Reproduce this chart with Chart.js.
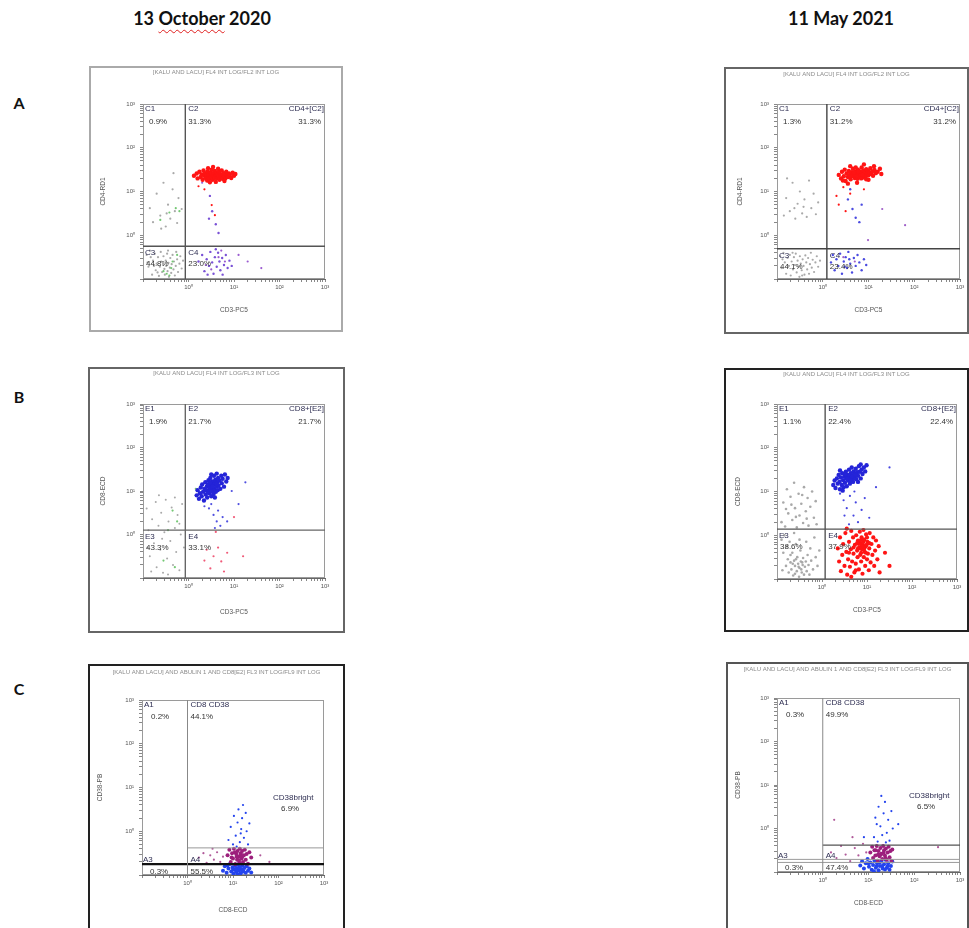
<!DOCTYPE html>
<html>
<head>
<meta charset="utf-8">
<script src="https://cdn.jsdelivr.net/npm/chart.js@4.4.1/dist/chart.umd.min.js"></script>
<style>
  body { margin: 0; width: 969px; height: 928px; overflow: hidden; background: #fff; position: relative; }
  .hd { position: absolute; transform: translate(-50%, -50%); font: bold 18px Lato, "Open Sans", sans-serif; color: #111; white-space: nowrap; }
  .sq { text-decoration: underline wavy #e02020; text-decoration-thickness: 1px; text-underline-offset: 4px; }
  .lt { position: absolute; transform: translate(-50%, -50%); font: bold 16px Lato, "Open Sans", sans-serif; color: #111; }
  .panel { position: absolute; box-sizing: border-box; border: 2px solid #555; }
  .panel canvas { position: absolute; left: 0; top: 0; }
</style>
</head>
<body>
<div class="hd" style="left:202px;top:18px">13 <span class="sq">October</span> 2020</div>
<div class="hd" style="left:841px;top:18px">11 May 2021</div>
<div class="lt" style="left:19px;top:102px">A</div>
<div class="lt" style="left:19px;top:396px">B</div>
<div class="lt" style="left:19px;top:688px">C</div>
<script>
// all values are in decades (log10 of fluorescence), axes run 10^-1 .. 10^3

// ---- A: CD3 / CD4 ----
const aOctText = ['C1', '0.9%', 'C2', '31.3%', 'CD4+[C2]', '31.3%', 'C3', '44.8%', 'C4', '23.0%'];
const aOctGate = [-0.07, -0.25];
const aOctCd4 = [[0.12,1.36],[0.18,1.41],[0.2,1.3],[0.24,1.45],[0.27,1.33],[0.29,1.39],[0.31,1.27],[0.33,1.48],[0.35,1.36],[0.36,1.42],[0.38,1.31],[0.4,1.39],[0.41,1.25],[0.42,1.46],[0.44,1.34],[0.45,1.4],[0.46,1.29],[0.48,1.37],[0.49,1.44],[0.5,1.32],[0.51,1.5],[0.52,1.38],[0.53,1.27],[0.55,1.42],[0.56,1.35],[0.57,1.31],[0.58,1.47],[0.59,1.39],[0.6,1.22],[0.61,1.36],[0.62,1.43],[0.63,1.3],[0.64,1.38],[0.66,1.34],[0.67,1.45],[0.68,1.27],[0.69,1.4],[0.7,1.36],[0.72,1.32],[0.73,1.48],[0.74,1.38],[0.75,1.29],[0.77,1.42],[0.78,1.35],[0.8,1.4],[0.81,1.3],[0.83,1.45],[0.85,1.36],[0.87,1.33],[0.89,1.41],[0.91,1.38],[0.94,1.31],[0.97,1.43],[1.0,1.36],[1.03,1.4],[0.47,1.21],[0.65,1.52],[0.43,1.53],[0.79,1.24],[0.54,1.56]];
const aOctRedStray = [[0.22,1.12],[0.51,0.69],[0.58,0.46],[0.35,1.05]];
const aOctBlue = [[0.22,-0.6],[0.3,-0.45],[0.35,-0.82],[0.4,-0.55],[0.45,-0.7],[0.48,-0.38],[0.52,-0.62],[0.55,-0.88],[0.58,-0.5],[0.62,-0.72],[0.65,-0.4],[0.68,-0.6],[0.7,-0.8],[0.74,-0.52],[0.78,-0.68],[0.82,-0.45],[0.86,-0.75],[0.9,-0.58],[0.95,-0.7],[0.6,-0.32],[0.42,-0.9],[0.75,-0.9],[0.47,0.9],[0.52,0.55],[0.6,0.25],[0.66,0.05],[0.45,0.38]];
const aOctViolet = [[0.5,-0.78],[0.66,-0.5],[0.8,-0.6],[0.38,-0.68],[0.3,1.2],[0.72,-0.35],[1.3,-0.6],[1.6,-0.75],[1.1,-0.45]];
const aOctGray = [[-0.85,0.62],[-0.78,0.3],[-0.7,0.95],[-0.62,0.45],[-0.55,1.2],[-0.5,0.2],[-0.45,0.7],[-0.4,0.38],[-0.35,1.05],[-0.3,0.55],[-0.25,0.28],[-0.22,0.85],[-0.6,0.15],[-0.33,1.42],[-0.15,0.6],[-0.48,0.5],
  [-0.92,-0.45],[-0.88,-0.72],[-0.85,-0.35],[-0.8,-0.9],[-0.78,-0.58],[-0.74,-0.42],[-0.72,-0.8],[-0.7,-0.65],[-0.67,-0.5],[-0.65,-0.93],[-0.63,-0.72],[-0.61,-0.38],[-0.6,-0.6],[-0.58,-0.84],[-0.56,-0.68],[-0.55,-0.48],[-0.53,-0.77],[-0.52,-0.9],[-0.5,-0.58],[-0.49,-0.7],[-0.47,-0.42],[-0.46,-0.82],[-0.44,-0.63],[-0.43,-0.95],[-0.41,-0.74],[-0.4,-0.52],[-0.38,-0.86],[-0.37,-0.66],[-0.35,-0.45],[-0.33,-0.78],[-0.32,-0.6],[-0.3,-0.92],[-0.28,-0.7],[-0.27,-0.38],[-0.25,-0.55],[-0.23,-0.84],[-0.2,-0.65],[-0.18,-0.48],[-0.15,-0.76],[-0.12,-0.58],[-0.9,-0.62],[-0.83,-0.5],[-0.76,-0.7],[-0.68,-0.85],[-0.45,-0.35]];
const aOctGreen = [[-0.42,0.52],[-0.28,0.62],[-0.62,0.35],[-0.2,0.55],[-0.48,-0.88],[-0.42,-0.92],[-0.35,-0.6],[-0.55,-0.82],[-0.38,-0.75],[-0.25,-0.45]];

const aMayText = ['C1', '1.3%', 'C2', '31.2%', 'CD4+[C2]', '31.2%', 'C3', '44.1%', 'C4', '23.4%'];
const aMayGate = [0.09, -0.31];
const aMayCd4 = [[0.35,1.38],[0.4,1.3],[0.42,1.45],[0.46,1.35],[0.48,1.5],[0.5,1.24],[0.52,1.41],[0.55,1.33],[0.57,1.47],[0.59,1.38],[0.61,1.28],[0.63,1.44],[0.65,1.36],[0.66,1.52],[0.68,1.4],[0.7,1.31],[0.71,1.46],[0.73,1.37],[0.74,1.43],[0.76,1.29],[0.77,1.5],[0.79,1.4],[0.8,1.34],[0.82,1.46],[0.83,1.38],[0.85,1.55],[0.86,1.42],[0.88,1.32],[0.89,1.48],[0.91,1.39],[0.92,1.44],[0.94,1.35],[0.95,1.51],[0.97,1.41],[0.99,1.47],[1.0,1.37],[1.02,1.43],[1.04,1.53],[1.06,1.4],[1.08,1.46],[1.1,1.36],[1.13,1.49],[1.16,1.42],[1.2,1.45],[1.25,1.52],[1.28,1.4],[0.6,1.58],[0.9,1.62],[0.75,1.2],[0.55,1.18],[1.0,1.27],[0.84,1.3],[0.72,1.55],[0.95,1.28],[1.12,1.58],[0.44,1.25],[0.62,1.35],[0.78,1.45],[0.87,1.38],[0.68,1.43]];
const aMayRedStray = [[0.45,1.1],[0.3,0.9],[0.6,0.95],[0.35,0.7],[0.9,1.05],[0.5,0.55]];
const aMayBlue = [[0.18,-0.62],[0.22,-0.45],[0.26,-0.8],[0.3,-0.55],[0.34,-0.7],[0.38,-0.42],[0.42,-0.88],[0.46,-0.6],[0.5,-0.5],[0.53,-0.75],[0.56,-0.38],[0.6,-0.65],[0.64,-0.85],[0.68,-0.52],[0.72,-0.7],[0.76,-0.45],[0.8,-0.62],[0.85,-0.8],[0.9,-0.55],[0.95,-0.68],[0.58,-0.55],[0.48,-0.72],[0.55,0.82],[0.65,0.6],[0.72,0.4],[0.85,0.7],[0.6,1.05],[0.8,0.3]];
const aMayViolet = [[1.8,0.23],[0.99,-0.11],[1.3,0.6],[0.7,-0.6],[0.45,-0.5]];
const aMayGray = [[-0.85,0.45],[-0.8,0.85],[-0.72,0.55],[-0.66,1.2],[-0.6,0.38],[-0.55,0.72],[-0.5,1.0],[-0.45,0.5],[-0.4,0.82],[-0.35,0.42],[-0.3,1.25],[-0.25,0.62],[-0.2,0.95],[-0.15,0.48],[-0.1,0.75],[-0.62,0.62],[-0.42,0.65],[-0.78,1.3],
  [-0.93,-0.48],[-0.9,-0.75],[-0.86,-0.4],[-0.83,-0.62],[-0.8,-0.88],[-0.77,-0.52],[-0.74,-0.7],[-0.72,-0.45],[-0.7,-0.92],[-0.68,-0.6],[-0.65,-0.78],[-0.63,-0.5],[-0.61,-0.68],[-0.59,-0.42],[-0.57,-0.85],[-0.55,-0.58],[-0.53,-0.72],[-0.51,-0.95],[-0.5,-0.48],[-0.48,-0.65],[-0.46,-0.8],[-0.44,-0.55],[-0.42,-0.7],[-0.4,-0.9],[-0.38,-0.46],[-0.36,-0.62],[-0.34,-0.78],[-0.32,-0.52],[-0.3,-0.88],[-0.28,-0.66],[-0.26,-0.4],[-0.24,-0.74],[-0.22,-0.56],[-0.19,-0.84],[-0.16,-0.62],[-0.13,-0.48],[-0.1,-0.72],[-0.06,-0.58],[-0.88,-0.55],[-0.66,-0.4],[-0.45,-0.92]];

// ---- B: CD3 / CD8 ----
const bOctText = ['E1', '1.9%', 'E2', '21.7%', 'CD8+[E2]', '21.7%', 'E3', '43.3%', 'E4', '33.1%'];
const bOctGate = [-0.07, 0.1];
const bOctCd8 = [[0.18,0.9],[0.2,1.02],[0.23,0.82],[0.25,0.95],[0.27,1.08],[0.29,0.88],[0.3,1.15],[0.32,0.98],[0.34,0.78],[0.35,1.05],[0.37,1.2],[0.38,0.92],[0.4,1.1],[0.41,0.85],[0.42,1.0],[0.44,1.25],[0.45,1.12],[0.46,0.95],[0.47,1.05],[0.48,1.3],[0.49,1.18],[0.5,0.88],[0.51,1.08],[0.52,1.0],[0.53,1.22],[0.54,1.14],[0.55,0.93],[0.56,1.35],[0.57,1.05],[0.58,1.18],[0.59,1.26],[0.6,0.98],[0.61,1.1],[0.62,1.4],[0.63,1.2],[0.64,1.02],[0.65,1.3],[0.66,1.12],[0.68,1.24],[0.7,1.05],[0.72,1.35],[0.73,1.18],[0.75,1.28],[0.78,1.1],[0.8,1.38],[0.83,1.22],[0.86,1.3],[0.43,1.15],[0.39,1.02],[0.5,1.38],[0.58,0.85],[0.47,1.2],[0.53,1.1],[0.62,1.16],[0.44,0.98]];
const bOctBlueStray = [[0.45,0.6],[0.55,0.45],[0.62,0.3],[0.7,0.2],[0.5,0.7],[0.75,0.4],[0.65,0.55],[0.58,0.15],[0.85,0.3],[1.1,0.7],[0.35,0.65],[0.95,1.0],[1.25,1.2]];
const bOctRed = [[0.6,0.06],[0.4,-0.35],[0.55,-0.5],[0.72,-0.62],[0.85,-0.42],[0.48,-0.78],[0.65,-0.3],[0.35,-0.6],[1.2,-0.5],[0.78,-0.85],[1.0,0.4]];
const bOctGray = [[-0.92,0.6],[-0.88,0.1],[-0.85,-0.5],[-0.8,0.35],[-0.76,-0.2],[-0.72,0.75],[-0.7,-0.75],[-0.66,0.2],[-0.62,-0.35],[-0.6,0.5],[-0.56,-0.88],[-0.53,0.05],[-0.5,0.8],[-0.47,-0.55],[-0.44,0.3],[-0.4,-0.15],[-0.37,0.62],[-0.34,-0.7],[-0.3,0.15],[-0.27,-0.4],[-0.24,0.45],[-0.2,-0.82],[-0.17,0.0],[-0.14,0.7],[-0.1,-0.3],[-0.82,-0.85],[-0.65,0.9],[-0.45,-0.92],[-0.3,0.85],[-0.58,-0.1],[-0.9,-0.3],[-0.2,0.25]];
const bOctGreen = [[-0.35,0.55],[-0.55,-0.6],[-0.25,0.3],[0.16,1.05],[-0.45,0.1],[-0.3,-0.75]];

const bMayText = ['E1', '1.1%', 'E2', '22.4%', 'CD8+[E2]', '22.4%', 'E3', '38.6%', 'E4', '37.9%'];
const bMayGate = [0.07, 0.14];
const bMayCd8 = [[0.25,1.15],[0.28,1.25],[0.3,1.08],[0.33,1.3],[0.35,1.18],[0.37,1.38],[0.39,1.22],[0.4,1.05],[0.42,1.32],[0.44,1.15],[0.45,1.42],[0.47,1.26],[0.48,1.1],[0.5,1.35],[0.51,1.2],[0.53,1.45],[0.54,1.3],[0.55,1.12],[0.57,1.38],[0.58,1.25],[0.6,1.5],[0.61,1.33],[0.62,1.18],[0.64,1.42],[0.65,1.28],[0.66,1.55],[0.68,1.36],[0.69,1.22],[0.7,1.46],[0.72,1.32],[0.73,1.4],[0.75,1.52],[0.76,1.28],[0.78,1.44],[0.8,1.36],[0.82,1.58],[0.84,1.45],[0.86,1.3],[0.88,1.5],[0.9,1.4],[0.93,1.55],[0.96,1.46],[0.99,1.6],[0.6,1.38],[0.7,1.3],[0.56,1.3],[0.67,1.35],[0.74,1.38],[0.63,1.26],[0.52,1.4],[0.46,1.02],[0.8,1.22],[0.4,1.48],[0.86,1.62]];
const bMayBlueStray = [[0.4,0.95],[0.48,0.8],[0.55,0.62],[0.62,0.9],[0.7,0.45],[0.75,0.75],[0.8,0.3],[0.88,0.58],[0.95,0.85],[1.05,0.4],[0.6,0.25],[0.72,1.0],[0.5,0.45],[1.2,1.1],[1.5,1.55]];
const bMayRed = [[0.35,-0.3],[0.38,-0.6],[0.4,-0.05],[0.42,-0.82],[0.45,-0.45],[0.47,-0.2],[0.5,-0.7],[0.52,0.05],[0.54,-0.38],[0.56,-0.9],[0.58,-0.55],[0.6,-0.15],[0.62,-0.72],[0.64,-0.32],[0.65,0.1],[0.67,-0.6],[0.69,-0.05],[0.7,-0.42],[0.72,-0.85],[0.73,-0.22],[0.75,-0.65],[0.76,0.0],[0.78,-0.35],[0.79,-0.5],[0.8,-0.12],[0.82,-0.78],[0.83,-0.28],[0.84,0.08],[0.85,-0.45],[0.86,-0.18],[0.87,-0.6],[0.88,-0.05],[0.89,-0.32],[0.9,-0.88],[0.91,-0.22],[0.92,0.12],[0.93,-0.5],[0.94,-0.1],[0.95,-0.38],[0.96,-0.7],[0.97,-0.25],[0.98,0.02],[1.0,-0.55],[1.01,-0.15],[1.02,-0.42],[1.04,-0.8],[1.05,-0.3],[1.06,0.05],[1.08,-0.62],[1.1,-0.2],[1.12,-0.45],[1.14,-0.05],[1.16,-0.7],[1.18,-0.35],[1.2,-0.12],[1.23,-0.55],[1.26,-0.25],[1.28,-0.85],[0.88,-0.25],[0.92,-0.15],[0.85,-0.3],[0.95,-0.28],[0.9,-0.1],[0.82,-0.2],[0.97,-0.4],[0.87,-0.4],[0.8,-0.3],[1.0,-0.05],[0.93,-0.32],[0.84,-0.12],[0.78,-0.18],[0.99,-0.22],[0.7,-0.28],[1.05,-0.18],[0.6,-0.4],[0.75,-0.8],[0.65,-0.95],[0.55,0.15],[1.4,-0.4],[1.5,-0.7]];
const bMayGray = [[-0.9,0.3],[-0.86,0.75],[-0.82,0.2],[-0.78,1.05],[-0.75,0.5],[-0.7,0.88],[-0.66,0.35],[-0.62,1.2],[-0.6,0.62],[-0.56,0.18],[-0.52,0.95],[-0.5,0.45],[-0.46,0.72],[-0.42,0.28],[-0.4,1.1],[-0.36,0.55],[-0.32,0.85],[-0.3,0.22],[-0.26,0.65],[-0.22,1.0],[-0.18,0.4],[-0.14,0.78],[-0.12,0.25],[-0.68,0.7],[-0.44,0.92],[-0.58,0.42],[-0.34,0.38],[-0.8,0.6],
  [-0.9,-0.1],[-0.86,-0.4],[-0.84,0.0],[-0.8,-0.7],[-0.78,-0.25],[-0.76,-0.55],[-0.74,-0.85],[-0.72,-0.15],[-0.7,-0.62],[-0.68,-0.78],[-0.66,-0.4],[-0.64,-0.92],[-0.62,-0.58],[-0.6,-0.7],[-0.58,-0.2],[-0.56,-0.82],[-0.55,-0.5],[-0.53,-0.65],[-0.51,-0.95],[-0.5,-0.75],[-0.48,-0.35],[-0.47,-0.6],[-0.45,-0.85],[-0.43,-0.68],[-0.42,-0.52],[-0.4,-0.9],[-0.38,-0.72],[-0.36,-0.6],[-0.34,-0.82],[-0.32,-0.45],[-0.3,-0.68],[-0.28,-0.9],[-0.26,-0.3],[-0.24,-0.58],[-0.2,-0.78],[-0.17,-0.05],[-0.14,-0.5],[-0.1,-0.7],[-0.06,-0.35],[-0.88,-0.8],[-0.65,-0.65],[-0.6,-0.88],[-0.52,-0.72],[-0.46,-0.78],[-0.44,-0.62],[-0.58,-0.55],[-0.7,-0.45],[-0.35,-0.15],[-0.62,0.05],[-0.5,-0.1]];

// ---- C: CD8 / CD38 ----
const cOctText = ['A1', '0.2%', 'CD8 CD38', '44.1%', 'CD38bright', '6.9%', 'A3', '0.3%', 'A4', '55.5%'];
const cOctGate = [0.0, -0.38, -0.75];
const cOctBright = [[0.9,-0.2],[0.95,0.1],[1.0,-0.3],[1.02,0.35],[1.06,-0.1],[1.1,0.2],[1.12,0.5],[1.15,-0.25],[1.18,0.05],[1.2,0.3],[1.24,-0.15],[1.28,0.42],[1.3,0.0],[1.33,-0.3],[1.36,0.18],[1.08,-0.35],[1.22,0.6],[1.17,-0.05]];
const cOctMid = [[0.88,-0.55],[0.92,-0.42],[0.95,-0.7],[0.98,-0.5],[1.0,-0.62],[1.02,-0.4],[1.05,-0.75],[1.07,-0.52],[1.09,-0.65],[1.1,-0.45],[1.12,-0.58],[1.14,-0.72],[1.15,-0.4],[1.17,-0.5],[1.19,-0.62],[1.2,-0.45],[1.22,-0.7],[1.24,-0.55],[1.26,-0.42],[1.28,-0.65],[1.3,-0.52],[1.33,-0.74],[1.36,-0.48],[1.4,-0.6],[1.08,-0.58],[1.16,-0.55],[1.13,-0.66],[1.21,-0.57],[1.04,-0.48],[0.97,-0.6]];
const cOctDim = [[0.78,-0.9],[0.82,-0.8],[0.86,-0.95],[0.9,-0.85],[0.93,-0.75],[0.96,-0.92],[0.99,-0.82],[1.01,-0.97],[1.03,-0.88],[1.05,-0.78],[1.07,-0.93],[1.09,-0.85],[1.11,-0.76],[1.13,-0.9],[1.15,-0.82],[1.17,-0.96],[1.19,-0.87],[1.21,-0.78],[1.23,-0.92],[1.25,-0.84],[1.28,-0.95],[1.3,-0.8],[1.33,-0.9],[1.36,-0.85],[1.4,-0.94],[1.1,-0.98],[1.16,-0.74],[1.0,-0.86],[1.12,-0.84],[1.2,-0.9],[0.88,-0.78],[1.06,-0.86]];
const cOctViolet = [[0.25,-0.6],[0.35,-0.5],[0.42,-0.72],[0.5,-0.55],[0.58,-0.65],[0.65,-0.48],[0.72,-0.7],[0.78,-0.58],[0.3,-0.75],[0.55,-0.4],[1.6,-0.55],[1.8,-0.7]];

const cMayText = ['A1', '0.3%', 'CD8 CD38', '49.9%', 'CD38bright', '6.5%', 'A3', '0.3%', 'A4', '47.4%'];
const cMayGate = [0.0, -0.38, -0.71, -0.78];
const cMayBright = [[1.12,-0.2],[1.15,0.25],[1.2,-0.3],[1.22,0.5],[1.26,0.05],[1.3,-0.15],[1.33,0.35],[1.36,0.61],[1.4,-0.1],[1.43,0.2],[1.46,-0.28],[1.5,0.4],[1.53,0.0],[1.28,0.75],[1.38,-0.32],[1.18,0.1],[0.9,-0.2],[1.65,0.1]];
const cMayMid = [[1.04,-0.55],[1.08,-0.42],[1.1,-0.68],[1.13,-0.5],[1.15,-0.62],[1.18,-0.4],[1.2,-0.74],[1.22,-0.52],[1.24,-0.64],[1.26,-0.45],[1.28,-0.58],[1.3,-0.7],[1.32,-0.4],[1.34,-0.5],[1.36,-0.62],[1.38,-0.46],[1.4,-0.72],[1.42,-0.55],[1.44,-0.42],[1.46,-0.66],[1.48,-0.52],[1.5,-0.74],[1.52,-0.48],[1.27,-0.6],[1.33,-0.56],[1.21,-0.6],[1.37,-0.68],[1.16,-0.5]];
const cMayDim = [[0.82,-0.85],[0.86,-0.75],[0.9,-0.92],[0.94,-0.8],[0.98,-0.7],[1.01,-0.88],[1.04,-0.78],[1.07,-0.95],[1.1,-0.84],[1.13,-0.74],[1.16,-0.9],[1.19,-0.8],[1.22,-0.96],[1.25,-0.86],[1.28,-0.76],[1.31,-0.92],[1.34,-0.82],[1.37,-0.72],[1.4,-0.9],[1.43,-0.8],[1.46,-0.95],[1.49,-0.86],[1.52,-0.76],[1.3,-0.86],[1.24,-0.78],[1.36,-0.94],[1.18,-0.86],[1.42,-0.86],[1.12,-0.98],[1.0,-0.8]];
const cMayViolet = [[0.18,-0.55],[0.3,-0.68],[0.4,-0.4],[0.5,-0.6],[0.6,-0.75],[0.7,-0.45],[0.78,-0.62],[0.88,-0.35],[0.95,-0.55],[2.52,-0.43],[0.25,0.2],[0.65,-0.2]];

const AXIS_MIN = -1, AXIS_MAX = 3;
const SUP = ['⁰', '¹', '²', '³'];

const RED = '#ff1414', BLUE = '#2424d8', VIOLET = '#7a52d6', GRAY = '#a9a9a9', GREEN = '#74c874';
const PURPLE = '#9c1f7c', CBLUE = '#2444ee';

Chart.defaults.font.family = '"Liberation Sans", Arial, sans-serif';

// log minor tick positions, one decade at a time
const decadeTicks = [];
for (let d = AXIS_MIN; d < AXIS_MAX; d++) {
  for (let k = 1; k < 10; k++) decadeTicks.push(d + Math.log10(k));
}
decadeTicks.push(AXIS_MAX);

function decadeLabel(v) {
  const r = Math.round(v);
  return Math.abs(v - r) < 1e-9 && r >= 0 ? '10' + SUP[r] : '';
}

function quadGates(g, color) {
  return [
    { x: [g[0], g[0]], y: [AXIS_MIN, AXIS_MAX], color, width: 1.4 },
    { x: [AXIS_MIN, AXIS_MAX], y: [g[1], g[1]], color, width: 1.4 },
  ];
}

const panels = [
  { frame: [89, 66, 254, 266], border: '#aaa', plot: [143, 104, 325, 279], titleY: 72, xTitleY: 310, yTitleX: 103,
    title: '[KALU AND LACU] FL4 INT LOG/FL2 INT LOG', xTitle: 'CD3-PC5', yTitle: 'CD4-RD1', kind: 'quad',
    gate: aOctGate, gates: quadGates(aOctGate, '#555'), text: aOctText,
    series: [[aOctGray, GRAY, 1.1], [aOctGreen, GREEN, 1.1], [aOctBlue, VIOLET, 1.2], [aOctViolet, '#9a5ad0', 1.1], [aOctRedStray, RED, 1.1], [aOctCd4, RED, 2.2]] },
  { frame: [724, 67, 245, 267], border: '#666', plot: [777, 104, 960, 279], titleY: 74, xTitleY: 310, yTitleX: 740,
    title: '[KALU AND LACU] FL4 INT LOG/FL2 INT LOG', xTitle: 'CD3-PC5', yTitle: 'CD4-RD1', kind: 'quad',
    gate: aMayGate, gates: quadGates(aMayGate, '#444'), text: aMayText,
    series: [[aMayGray, GRAY, 1.1], [aMayBlue, '#4a4ae0', 1.2], [aMayViolet, '#a060c8', 1.1], [aMayRedStray, RED, 1.1], [aMayCd4, RED, 2.2]] },
  { frame: [88, 367, 257, 266], border: '#666', plot: [143, 404, 325, 578], titleY: 373, xTitleY: 612, yTitleX: 103,
    title: '[KALU AND LACU] FL4 INT LOG/FL3 INT LOG', xTitle: 'CD3-PC5', yTitle: 'CD8-ECD', kind: 'quad',
    gate: bOctGate, gates: quadGates(bOctGate, '#666'), text: bOctText,
    series: [[bOctGray, GRAY, 1], [bOctGreen, GREEN, 1.1], [bOctRed, '#f05a78', 1.1], [bOctBlueStray, '#5050e0', 1.1], [bOctCd8, BLUE, 2.2]] },
  { frame: [724, 368, 245, 264], border: '#222', plot: [777, 404, 957, 579], titleY: 374, xTitleY: 610, yTitleX: 738,
    title: '[KALU AND LACU] FL4 INT LOG/FL3 INT LOG', xTitle: 'CD3-PC5', yTitle: 'CD8-ECD', kind: 'quad',
    gate: bMayGate, gates: quadGates(bMayGate, '#555'), text: bMayText,
    series: [[bMayGray, GRAY, 1.3], [bMayBlueStray, '#4646e0', 1.1], [bMayRed, RED, 2.1], [bMayCd8, BLUE, 2.2]] },
  { frame: [88, 664, 257, 290], border: '#222', plot: [142, 700, 324, 875], titleY: 672, xTitleY: 910, yTitleX: 100,
    title: '[KALU AND LACU] AND ABULIN 1 AND CD8[E2] FL3 INT LOG/FL9 INT LOG', xTitle: 'CD8-ECD', yTitle: 'CD38-PB', kind: 'cd38',
    gate: cOctGate, text: cOctText,
    gates: [
      { x: [cOctGate[0], cOctGate[0]], y: [AXIS_MIN, AXIS_MAX], color: '#888', width: 1 },
      { x: [cOctGate[0], AXIS_MAX], y: [cOctGate[1], cOctGate[1]], color: '#999', width: 1 },
      { x: [AXIS_MIN, AXIS_MAX], y: [cOctGate[2], cOctGate[2]], color: '#111', width: 2.2 },
    ],
    series: [[cOctViolet, '#b05a9a', 1.1], [cOctBright, CBLUE, 1.1], [cOctDim, CBLUE, 2], [cOctMid, PURPLE, 2]] },
  { frame: [726, 662, 243, 290], border: '#555', plot: [777, 698, 960, 872], titleY: 669, xTitleY: 903, yTitleX: 738,
    title: '[KALU AND LACU] AND ABULIN 1 AND CD8[E2] FL3 INT LOG/FL9 INT LOG', xTitle: 'CD8-ECD', yTitle: 'CD38-PB', kind: 'cd38',
    gate: cMayGate, text: cMayText,
    gates: [
      { x: [cMayGate[0], cMayGate[0]], y: [AXIS_MIN, AXIS_MAX], color: '#888', width: 1 },
      { x: [cMayGate[0], AXIS_MAX], y: [cMayGate[1], cMayGate[1]], color: '#555', width: 1.2 },
      { x: [AXIS_MIN, AXIS_MAX], y: [cMayGate[2], cMayGate[2]], color: '#9a9a9a', width: 1 },
      { x: [AXIS_MIN, AXIS_MAX], y: [cMayGate[3], cMayGate[3]], color: '#9a9a9a', width: 1 },
    ],
    series: [[cMayViolet, '#b05a9a', 1.1], [cMayBright, CBLUE, 1.1], [cMayDim, CBLUE, 2], [cMayMid, PURPLE, 2]] },
];

// box round the plot area + gate texts
function decorPlugin(p) {
  return {
    id: 'decor',
    beforeDatasetsDraw(chart) {
      const a = chart.chartArea, ctx = chart.ctx;
      ctx.save();
      ctx.strokeStyle = '#9a9a9a';
      ctx.lineWidth = 1;
      ctx.strokeRect(a.left + 0.5, a.top + 0.5, a.right - a.left - 1, a.bottom - a.top - 1);
      ctx.restore();
    },
    afterDatasetsDraw(chart) {
      const a = chart.chartArea, ctx = chart.ctx;
      const gx = chart.scales.x.getPixelForValue(p.gate[0]);
      const t = p.text;
      ctx.save();
      ctx.font = '8px "Liberation Sans", Arial, sans-serif';
      ctx.textBaseline = 'middle';
      const put = (s, x, y, align, color) => {
        ctx.textAlign = align || 'left';
        ctx.fillStyle = color || '#2e2e52';
        ctx.fillText(s, x, y);
      };
      if (p.kind === 'quad') {
        const gy = chart.scales.y.getPixelForValue(p.gate[1]);
        put(t[0], a.left + 2, a.top + 5); put(t[1], a.left + 6, a.top + 18, 'left', '#333');
        put(t[2], gx + 3, a.top + 5); put(t[3], gx + 3, a.top + 18, 'left', '#333');
        put(t[4], a.right - 1, a.top + 5, 'right'); put(t[5], a.right - 4, a.top + 18, 'right', '#333');
        put(t[6], a.left + 2, gy + 7); put(t[7], a.left + 3, gy + 18, 'left', '#333');
        put(t[8], gx + 3, gy + 7); put(t[9], gx + 3, gy + 18, 'left', '#333');
      } else {
        const fl = chart.scales.y.getPixelForValue(p.gate[2]);
        put(t[0], a.left + 2, a.top + 5); put(t[1], a.left + 9, a.top + 17, 'left', '#333');
        put(t[2], gx + 3, a.top + 5); put(t[3], gx + 3, a.top + 17, 'left', '#333');
        put(t[4], a.right - 51, a.top + 98); put(t[5], a.right - 43, a.top + 109, 'left', '#333');
        put(t[6], a.left + 1, fl - 4); put(t[7], a.left + 8, fl + 8, 'left', '#333');
        put(t[8], gx + 3, fl - 4); put(t[9], gx + 3, fl + 8, 'left', '#333');
      }
      ctx.restore();
    },
  };
}

function buildPanel(p) {
  const bw = 2;
  const wrap = document.createElement('div');
  wrap.className = 'panel';
  Object.assign(wrap.style, {
    left: p.frame[0] + 'px', top: p.frame[1] + 'px',
    width: p.frame[2] + 'px', height: p.frame[3] + 'px', borderColor: p.border,
  });
  const cv = document.createElement('canvas');
  const ox = p.frame[0] + bw, oy = p.frame[1] + bw;
  const w = p.frame[2] - 2 * bw, h = p.frame[3] - 2 * bw;
  cv.width = w; cv.height = h;
  cv.style.width = w + 'px'; cv.style.height = h + 'px';
  wrap.appendChild(cv);
  document.body.appendChild(wrap);

  const [pl, pt, pr, pb] = p.plot;
  const yW = pl - ox, xH = oy + h - pb, padR = ox + w - pr;
  const tLH = 6 * 1.2, aLH = 6.5 * 1.2;
  const tTop = p.titleY - oy - tLH / 2;
  const tBot = pt - oy - tTop - tLH;

  const datasets = p.series.map(([pts, color, r], i) => ({
    data: pts.map(([x, y]) => ({ x, y })),
    backgroundColor: color, borderWidth: 0, pointRadius: r,
    yAxisID: 'y', order: p.series.length - i,
  }));
  p.gates.forEach(g => datasets.push({
    data: [{ x: g.x[0], y: g.y[0] }, { x: g.x[1], y: g.y[1] }],
    showLine: true, pointRadius: 0, borderColor: g.color, borderWidth: g.width,
    yAxisID: 'y', order: 0,
  }));

  const axisCommon = {
    type: 'linear', min: AXIS_MIN, max: AXIS_MAX,
    afterBuildTicks: ax => { ax.ticks = decadeTicks.map(v => ({ value: v })); },
    ticks: { autoSkip: false, maxRotation: 0, font: { size: 6 }, color: '#555', callback: decadeLabel },
    grid: { drawOnChartArea: false, tickLength: 3, color: '#888' },
    border: { color: '#666', width: 1 },
  };

  new Chart(cv, {
    type: 'scatter',
    data: { datasets },
    options: {
      responsive: false, animation: false, events: [],
      layout: { padding: 0 },
      plugins: {
        legend: { display: false }, tooltip: { enabled: false },
        title: { display: true, text: p.title, color: '#8a8a8a', font: { size: 6, weight: 'normal' },
          padding: { top: tTop, bottom: tBot } },
      },
      scales: {
        x: Object.assign({}, axisCommon, {
          position: 'bottom',
          ticks: Object.assign({}, axisCommon.ticks, { padding: 2 }),
          afterFit: s => { s.height = xH; },
          title: { display: true, text: p.xTitle, color: '#555', font: { size: 6.5 },
            padding: { top: 0, bottom: oy + h - p.xTitleY - aLH / 2 } },
        }),
        y: Object.assign({}, axisCommon, {
          position: 'left',
          ticks: Object.assign({}, axisCommon.ticks, { padding: 5 }),
          afterFit: s => { s.width = yW; },
          title: { display: true, text: p.yTitle, color: '#555', font: { size: 6.5 },
            padding: { top: p.yTitleX - ox - aLH / 2, bottom: 0 } },
        }),
        yR: {
          type: 'linear', position: 'right', display: true,
          ticks: { display: false }, grid: { display: false }, border: { display: false },
          afterFit: s => { s.width = padR; },
        },
      },
    },
    plugins: [decorPlugin(p)],
  });
}

panels.forEach(buildPanel);
</script>
</body>
</html>
